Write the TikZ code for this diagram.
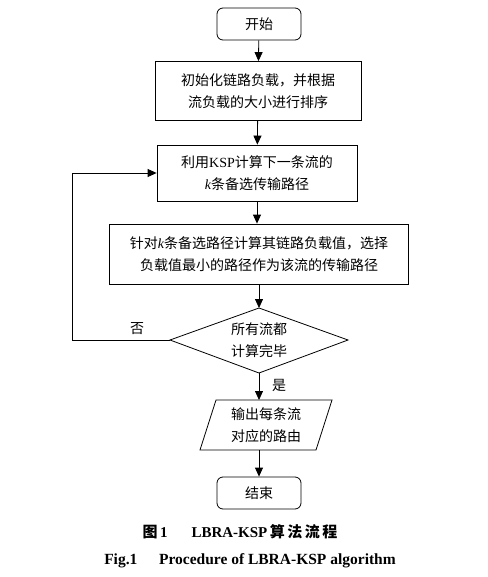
\documentclass[tikz,border=0pt]{standalone}
\usepackage{fontspec}
\setmainfont{Noto Sans CJK SC}
\newfontfamily\lat{Liberation Serif}
\usetikzlibrary{arrows.meta}
\begin{document}
\begin{tikzpicture}[x=1pt,y=-1pt,
  line width=0.8pt,
  every node/.style={font=\fontsize{14}{22}\selectfont, align=center},
  term/.style={draw, rounded corners=6pt, minimum width=84pt, minimum height=32pt, inner sep=0pt},
  proc/.style={draw, inner sep=0pt},
  arr/.style={-{Triangle[length=9pt,width=8pt]}},
  lbl/.style={inner sep=0pt}]
\useasboundingbox (0,0) rectangle (487,577);
\node[term] (start) at (259,24) {开始};
\node[proc, minimum width=206pt, minimum height=59pt] (init) at (258,91) {初始化链路负载，并根据\\流负载的大小进行排序};
\node[proc, minimum width=200pt, minimum height=56pt] (ksp) at (257,173) {利用{\lat KSP}计算下一条流的\\{\lat\itshape k}条备选传输路径};
\node[proc, minimum width=299pt, minimum height=60pt] (sel) at (259,254) {针对{\lat\itshape k}条备选路径计算其链路负载值，选择\\负载值最小的路径作为该流的传输路径};
% decision diamond
\coordinate (dN) at (259,308);
\coordinate (dS) at (259,373);
\coordinate (dW) at (170,340);
\coordinate (dE) at (348,340);
\draw (dN) -- (dE) -- (dS) -- (dW) -- cycle;
\node[lbl] (dec) at (259,340) {所有流都\\计算完毕};
% output parallelogram
\coordinate (pN) at (266,400);
\coordinate (pS) at (259,450);
\draw (216,400) -- (332,400) -- (316,450) -- (200,450) -- cycle;
\coordinate (pTop) at (259,400);
\node[lbl] (out) at (266,425) {输出每条流\\对应的路由};
\node[term] (end) at (259,493) {结束};
% connectors
\draw[arr] (start) -- (init);
\draw[arr] (init) -- (ksp);
\draw[arr] (ksp.south) -- (ksp.south |- sel.north);
\draw[arr] (sel.south -| dN) -- (dN);
\draw[arr] (dS) -- (pTop);
\draw[arr] (pS) -- (end);
\coordinate (loop) at (72,340);
\draw[arr] (dW) -- (loop) |- (ksp.west);
\node[lbl] (no) at (137,329) {否};
\node[lbl] (yes) at (279,385) {是};
% captions
\node[lbl, font=\fontsize{15}{18}\selectfont\bfseries] (cap1) at (240,532) {图\,{\lat 1}\hspace{1.6em}{\lat LBRA-KSP}\,算\,法\,流\,程};
\node[lbl, font=\fontsize{15.5}{18}\selectfont\bfseries\lat] (cap2) at (250,561) {Fig.1\hspace{1.4em}Procedure of LBRA-KSP algorithm};
\end{tikzpicture}
\end{document}
